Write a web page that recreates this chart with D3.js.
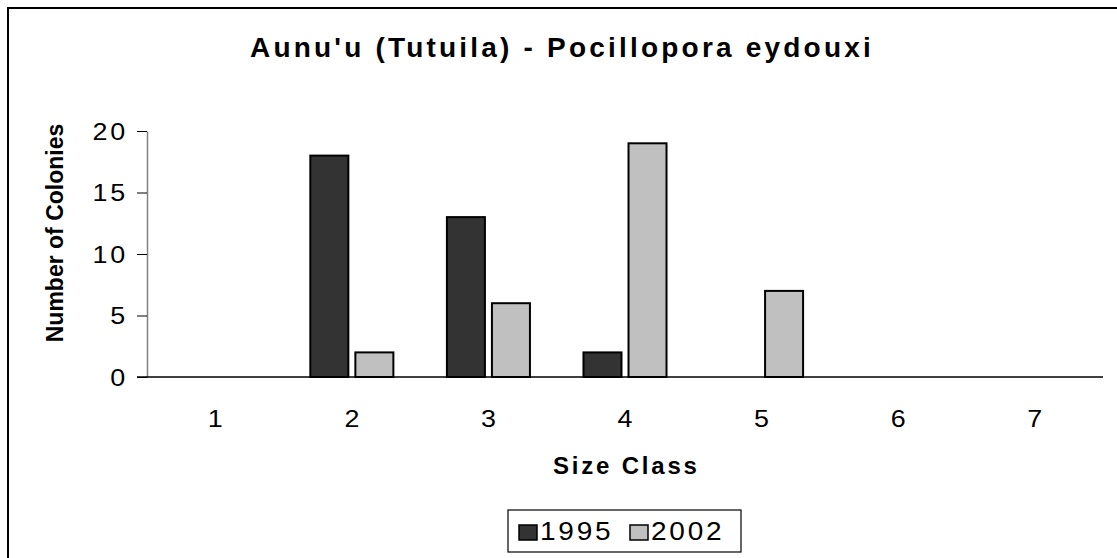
<!DOCTYPE html>
<html>
<head>
<meta charset="utf-8">
<script src="https://cdn.jsdelivr.net/npm/d3@7.9.0/dist/d3.min.js"></script>
<style>
  body { margin: 0; background: #fff; }
  text { font-family: "Liberation Sans", Arial, sans-serif; fill: #000; }
</style>
</head>
<body>
<svg id="chart" width="1117" height="558"></svg>
<script>
// data
const sizeClasses = ['1', '2', '3', '4', '5', '6', '7'];
const seriesNames = ['1995', '2002'];
const counts1995 = [0, 18, 13, 2, 0, 0, 0];
const counts2002 = [0, 2, 6, 19, 7, 0, 0];
const yTicks = [0, 5, 10, 15, 20];
const seriesColors = ['#333333', '#c0c0c0'];

const chartTitle = "Aunu'u (Tutuila) - Pocillopora eydouxi";
const xTitle = 'Size Class';
const yTitle = 'Number of Colonies';

// the original text is spaced out and a touch wide
const sx = 1.12;
const numSpacing = 2.5;
const svg = d3.select('#chart');

// outer frame (right and bottom edges fall outside the window)
svg.append('rect')
  .attr('x', 8).attr('y', 8)
  .attr('width', 1120).attr('height', 560)
  .attr('fill', 'none').attr('stroke', '#000').attr('stroke-width', 2);

const plotLeft = 147, plotRight = 1103, plotTop = 131, plotBottom = 377;

let x = d3.scaleBand()
  .domain(sizeClasses)
  .range([plotLeft, plotRight])
  .paddingInner(0.392)
  .paddingOuter(0.196);

let xInner = d3.scaleBand()
  .domain(seriesNames)
  .range([0, x.bandwidth()])
  .paddingInner(0.156);

let y = d3.scaleLinear().domain([0, 20]).range([plotBottom, plotTop]);

let rows = sizeClasses.map((c, i) => ({ cls: c, values: [counts1995[i], counts2002[i]] }));

// bars
rows.forEach((r) => {
  r.values.forEach((v, si) => {
    if (v === 0) return;
    svg.append('rect')
      .attr('x', x(r.cls) + xInner(seriesNames[si]))
      .attr('y', y(v))
      .attr('width', xInner.bandwidth())
      .attr('height', y(0) - y(v))
      .attr('fill', seriesColors[si])
      .attr('stroke', '#000')
      .attr('stroke-width', 2);
  });
});

// y axis
let yAxis = svg.append('g')
  .attr('transform', `translate(${plotLeft},0)`)
  .call(d3.axisLeft(y).tickValues(yTicks).tickSize(10).tickSizeOuter(0));
yAxis.select('.domain').attr('stroke', '#808080').attr('stroke-width', 1.5);
yAxis.selectAll('.tick line').attr('stroke', '#000');
yAxis.selectAll('.tick text')
  .attr('x', null)
  .attr('transform', `translate(-19,0) scale(${sx},1)`)
  .attr('dy', '0.35em')
  .style('letter-spacing', numSpacing + 'px')
  .style('font-size', '24px');

// x axis line, from the 0 tick to the plot end
svg.append('line')
  .attr('x1', plotLeft - 10).attr('x2', plotRight)
  .attr('y1', y(0)).attr('y2', y(0))
  .attr('stroke', '#000').attr('stroke-width', 1.5);

let xAxis = svg.append('g')
  .attr('transform', `translate(0,${plotBottom})`)
  .call(d3.axisBottom(x).tickSize(0));
xAxis.select('.domain').remove();
xAxis.selectAll('.tick text')
  .attr('y', 0).attr('dy', null)
  .attr('dx', numSpacing / 2)
  .attr('transform', `translate(0,50) scale(${sx},1)`)
  .style('letter-spacing', numSpacing + 'px')
  .style('font-size', '24px');

// titles
svg.append('text')
  .attr('x', 562).attr('y', 57)
  .attr('text-anchor', 'middle')
  .style('font-size', '28px').style('font-weight', 'bold')
  .style('letter-spacing', '3.2px')
  .text(chartTitle);

svg.append('text')
  .attr('x', (plotLeft + plotRight) / 2 + 1.4).attr('y', 474)
  .attr('text-anchor', 'middle')
  .style('font-size', '24px').style('font-weight', 'bold')
  .style('letter-spacing', '2.8px')
  .text(xTitle);

svg.append('text')
  .attr('transform', 'translate(63,233) rotate(-90)')
  .attr('text-anchor', 'middle')
  .style('font-size', '23px').style('font-weight', 'bold')
  .text(yTitle);

// legend
let legend = svg.append('g').attr('transform', 'translate(508,510)');
legend.append('rect')
  .attr('width', 233).attr('height', 42)
  .attr('fill', '#fff').attr('stroke', '#000').attr('stroke-width', 1.2);

let legendX = [11, 122];
seriesNames.forEach((name, i) => {
  legend.append('rect')
    .attr('x', legendX[i]).attr('y', 15)
    .attr('width', 18).attr('height', 15)
    .attr('fill', seriesColors[i]).attr('stroke', '#000').attr('stroke-width', 1.5);
  legend.append('text')
    .attr('transform', `translate(${legendX[i] + 21},30) scale(${sx},1)`)
    .style('font-size', '25px')
    .style('letter-spacing', '2.5px')
    .text(name);
});
</script>
</body>
</html>
